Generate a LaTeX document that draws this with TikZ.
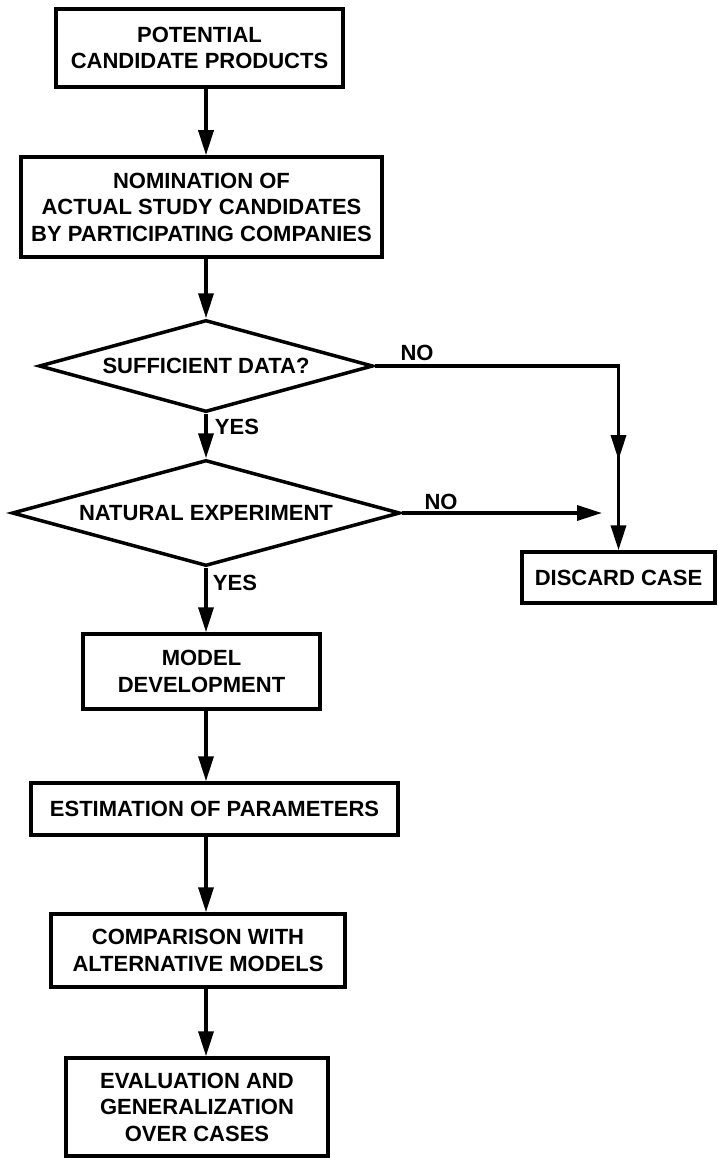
\documentclass[tikz,border=0pt]{standalone}
\usepackage{fontspec}
\setmainfont{Liberation Sans}
\usetikzlibrary{arrows.meta,shapes.geometric}
\begin{document}
\begin{tikzpicture}[x=1pt,y=-1pt,
  txt/.style={font=\bfseries\fontsize{22}{26.5}\selectfont},
  box/.style={txt, draw, line width=3.5pt, rectangle, align=center, inner sep=0pt},
  dec/.style={txt, draw, line width=3.5pt, diamond, inner sep=0pt},
  conn/.style={line width=3.5pt},
  arr/.style={line width=3.5pt, -{Triangle[length=25pt,width=15pt]}},
  lbl/.style={txt, inner sep=0pt}]
\useasboundingbox (0,0) rectangle (717,1158);

\node[box, minimum width=287pt, minimum height=78pt] (b1) at (199.5,48) {POTENTIAL\\CANDIDATE PRODUCTS};
\node[box, minimum width=361pt, minimum height=100pt] (b2) at (201.5,207) {NOMINATION OF\\ACTUAL STUDY CANDIDATES\\BY PARTICIPATING COMPANIES};
\node[dec, aspect=3.6, minimum width=334pt, minimum height=92pt] (sd) at (206,366) {SUFFICIENT DATA?};
\node[dec, aspect=3.66, minimum width=388pt, minimum height=106pt] (ne) at (206,513) {NATURAL EXPERIMENT};
\node[box, minimum width=193pt, minimum height=51pt] (dc) at (618.5,577.5) {DISCARD CASE};
\node[box, minimum width=237pt, minimum height=75pt] (md) at (201.5,671.5) {MODEL\\DEVELOPMENT};
\node[box, minimum width=367pt, minimum height=52pt] (ep) at (214.5,809) {ESTIMATION OF PARAMETERS};
\node[box, minimum width=294pt, minimum height=73pt] (cm) at (198,950.5) {COMPARISON WITH\\ALTERNATIVE MODELS};
\node[box, minimum width=262pt, minimum height=98pt] (ev) at (197,1107) {EVALUATION AND\\GENERALIZATION\\OVER CASES};

\coordinate (sp) at (206,0);
\coordinate (corner) at (sd.east -| dc.north);
\coordinate (mid) at (dc.north |- 0,460);
\coordinate (noend) at (602,513);

\draw[arr] (b1.south -| sp) -- (b2.north -| sp);
\draw[arr] (b2.south -| sp) -- (sd.north);
\draw[arr] (sd.south) -- (ne.north);
\draw[arr] (ne.south) -- (md.north -| sp);
\draw[arr] (md.south -| sp) -- (ep.north -| sp);
\draw[arr] (ep.south -| sp) -- (cm.north -| sp);
\draw[arr] (cm.south -| sp) -- (ev.north -| sp);

\draw[conn] (sd.east) -- (corner) -- (mid);
\draw[arr] (corner) -- (mid);
\draw[arr] (mid) -- (dc.north);
\draw[arr] (ne.east) -- (noend);

\node[lbl] (no1) at (417,353) {NO};
\node[lbl] (no2) at (441,502) {NO};
\node[lbl] (y1) at (237,427) {YES};
\node[lbl] (y2) at (235,583) {YES};
\end{tikzpicture}
\end{document}
